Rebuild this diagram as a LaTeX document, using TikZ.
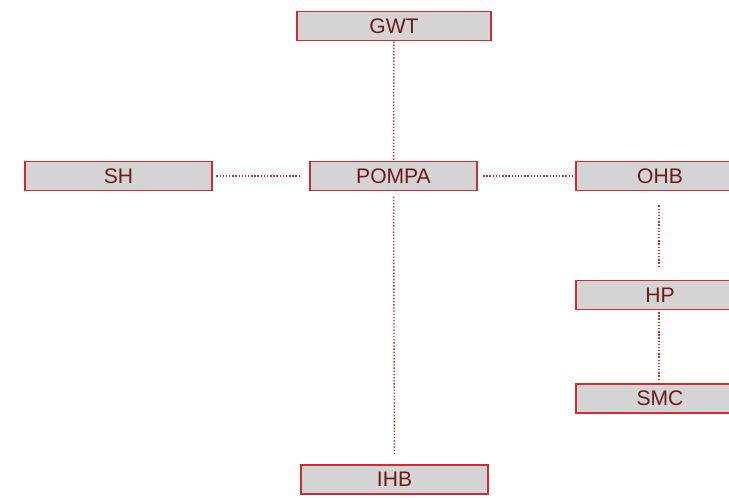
\documentclass[tikz,border=0pt]{standalone}
\usepackage{fontspec}
\setmainfont{Liberation Sans}
\usetikzlibrary{positioning}
\definecolor{boxred}{RGB}{205,45,50}
\definecolor{boxgray}{RGB}{212,212,212}
\definecolor{textred}{RGB}{110,25,25}
\tikzset{
  unit/.style={draw=boxred, fill=boxgray, line width=1pt, inner sep=0pt,
    minimum height=0.58cm, font=\large, text=textred},
  link/.style={draw=boxred, densely dotted, line width=0.8pt}
}
\begin{document}
\begin{tikzpicture}[x=0.02cm, y=-0.02cm]
        \useasboundingbox (0,0) rectangle (729,497);
        \node[unit, minimum width=3.88cm] (gwt) at (394,26) {GWT};
        \node[unit, minimum width=3.74cm] (sh) at (118.5,176) {SH};
        \node[unit, minimum width=3.34cm] (pompa) at (393.5,176) {POMPA};
        \node[unit, minimum width=3.36cm] (ohb) at (660,176) {OHB};
        \node[unit, minimum width=3.36cm] (hp) at (660,295) {HP};
        \node[unit, minimum width=3.36cm] (smc) at (660,398.5) {SMC};
        \node[unit, minimum width=3.74cm] (ihb) at (394.5,479.5) {IHB};
        % connectors
        \draw[link] (gwt) -- (pompa);
        \draw[link, shorten <=2pt, shorten >=5pt] (sh) -- (pompa);
        \draw[link, shorten <=3pt] (pompa) -- (ohb);
        \draw[link, shorten <=3pt, shorten >=5pt] (pompa) -- (ihb);
        \draw[link, shorten <=8pt, shorten >=8pt] (ohb.south -| 659,0) -- (hp.north -| 659,0);
        \draw[link, shorten <=1pt, shorten >=2pt] (hp.south -| 659,0) -- (smc.north -| 659,0);
\end{tikzpicture}
\end{document}
